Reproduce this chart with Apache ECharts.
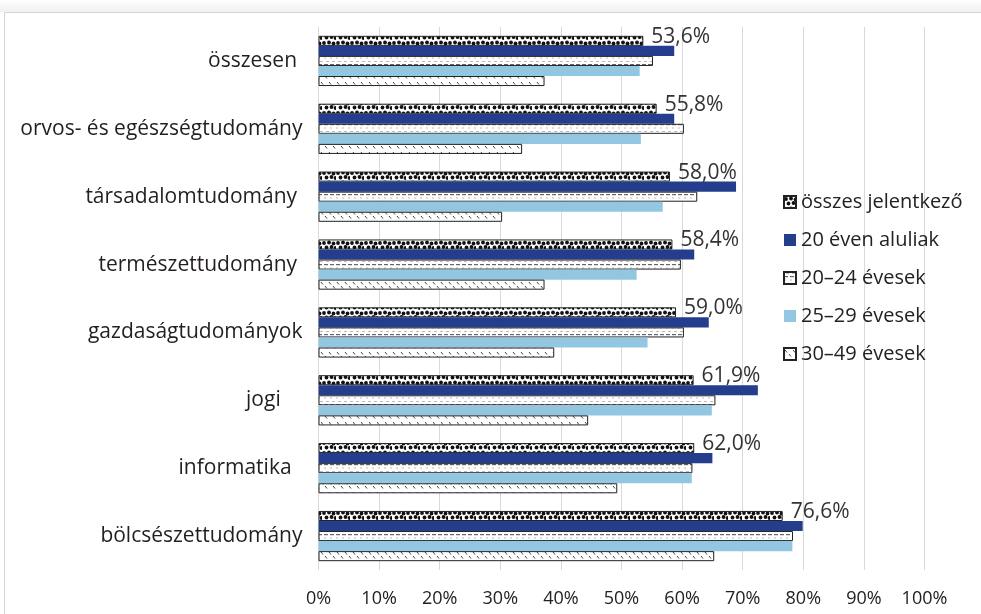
<!DOCTYPE html>
<html><head><meta charset="utf-8">
<script src="https://cdn.jsdelivr.net/npm/echarts@6/dist/echarts.min.js"></script>
<style>html,body{margin:0;padding:0;background:#fff;}#c{width:981px;height:614px;}</style>
</head><body><div id="c"></div>
<script>
const categories = ["összesen ","orvos- és egészségtudomány","társadalomtudomány ","természettudomány ","gazdaságtudományok","jogi    ","informatika  ","bölcsészettudomány"];
const seriesNames = ["összes jelentkező","20 éven aluliak","20–24 évesek","25–29 évesek","30–49 évesek"];
const osszes = [53.6,55.8,58.0,58.4,59.0,61.9,62.0,76.6];
const alatt20 = [58.7,58.7,68.9,62.0,64.4,72.5,65.0,79.9];
const ev20_24 = [55.2,60.3,62.5,59.8,60.3,65.5,61.7,78.3];
const ev25_29 = [53.0,53.2,56.8,52.5,54.3,64.9,61.6,78.2];
const ev30_49 = [37.3,33.6,30.3,37.3,38.9,44.5,49.3,65.3];
const xTicks = [0,10,20,30,40,50,60,70,80,90,100];

function mk(w,h,draw){const c=document.createElement('canvas');c.width=w;c.height=h;const g=c.getContext('2d');g.fillStyle='#fff';g.fillRect(0,0,w,h);draw(g);return c;}
const dots = mk(14,10,g=>{g.fillStyle='#111';[[2,3],[7,2.5],[11.5,3.5],[4.5,7.5],[9.5,7],[13.5,8]].forEach(p=>{g.beginPath();g.arc(p[0],p[1],1.9,0,Math.PI*2);g.fill();});});
const dashes = mk(6,10,g=>{g.fillStyle='#666';g.fillRect(0,4,4,1.2);g.fillStyle='#bbb';g.fillRect(2,1,3,1);g.fillRect(0,7.5,2,1);});
const diag = mk(8,10,g=>{g.strokeStyle='#444';g.lineWidth=1;g.beginPath();g.moveTo(1,2);g.lineTo(3,4.5);g.moveTo(5,6);g.lineTo(7,8.5);g.stroke();});

const fills = [{image:dots,repeat:'repeat'},'#243d8c',{image:dashes,repeat:'repeat'},'#93c7e1',{image:diag,repeat:'repeat'}];
const datas = [osszes,alatt20,ev20_24,ev25_29,ev30_49];
const font = 'Open Sans';
const series = datas.map((d,i)=>({
  name: seriesNames[i], type:'bar', data:d, barGap:'0%', barCategoryGap:'26%',
  itemStyle:{color:fills[i], borderColor: (i%2===0)?'#222':'transparent', borderWidth:(i%2===0)?1:0},
  emphasis:{disabled:true},
  label: i===0?{show:true,position:'right',distance:8,offset:[0,-4],fontFamily:font,fontSize:21,color:'#333',
    formatter:p=>p.value.toFixed(1).replace('.',',')+'%'}:{show:false}
}));

const chart = echarts.init(document.getElementById('c'));
chart.setOption({
  animation:false,
  graphic:[
    {type:'rect',shape:{x:0,y:0,width:981,height:12},style:{fill:new echarts.graphic.LinearGradient(0,0,0,1,[{offset:0,color:'#ffffff'},{offset:1,color:'#f0f0f0'}])},z:-11},
    {type:'rect',shape:{x:4.5,y:12.5,width:990,height:620},style:{fill:'#fff',stroke:'#d4d4d4',lineWidth:1},z:-10}],
  grid:{left:318.5,right:56.5,top:27,bottom:44},
  legend:{orient:'vertical',left:778,top:187,itemWidth:12,itemHeight:12,itemGap:18,icon:'rect',
    textStyle:{fontFamily:font,fontSize:20,color:'#222'},data:seriesNames},
  xAxis:{type:'value',min:0,max:100,interval:10,
    axisLabel:{formatter:'{value}%',fontFamily:font,fontSize:18,color:'#222',margin:20},
    splitLine:{lineStyle:{color:'#d9d9d9'}},axisLine:{show:false},axisTick:{show:false}},
  yAxis:{type:'category',data:categories,inverse:true,
    axisLabel:{fontFamily:font,fontSize:21,color:'#231f20',margin:16},
    axisLine:{show:false},axisTick:{show:false}},
  series
});
</script></body></html>
